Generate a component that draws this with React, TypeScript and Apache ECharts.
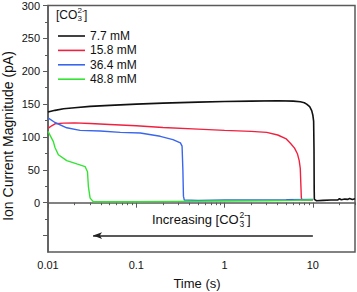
import React, { useEffect, useRef } from "react";
import * as echarts from "echarts";

const seriesNames = ["7.7 mM", "15.8 mM", "36.4 mM", "48.8 mM"];
const seriesColors = ["#111111", "#f2203f", "#3a66ee", "#33e433"];

const black: [number, number][] = [
  [0.01, 138], [0.012, 140.5], [0.015, 143], [0.02, 144.5], [0.03, 146.5], [0.05, 148],
  [0.1, 150], [0.2, 151.5], [0.5, 153], [1, 154], [2, 154.5], [4, 155], [6, 154.5],
  [7.2, 153.5], [8, 152], [8.5, 150], [9.2, 146], [9.7, 140], [10, 133], [10.2, 124],
  [10.3, 80], [10.35, 20], [10.4, 5], [11, 3], [13, 3.5], [16, 4], [19, 4], [20, 6],
  [21, 4.5], [23, 5.5], [25, 5], [26, 6.5], [28, 5], [30, 6],
];
const red: [number, number][] = [
  [0.01, 113], [0.011, 117], [0.012, 120], [0.015, 121], [0.02, 121.5], [0.03, 120.5],
  [0.05, 119], [0.1, 117], [0.2, 114.5], [0.5, 112], [1, 110], [2, 108.5], [3, 107],
  [4, 103], [5, 97], [5.6, 90], [6.2, 83], [6.7, 74], [7.0, 64], [7.2, 52], [7.3, 30],
  [7.4, 8], [7.5, 4], [10, 4],
];
const blue: [number, number][] = [
  [0.01, 129], [0.012, 122], [0.0163, 114], [0.0231, 110], [0.039, 109], [0.066, 107],
  [0.111, 106], [0.187, 101], [0.26, 96], [0.316, 91], [0.33, 86], [0.337, 50],
  [0.342, 10], [0.35, 4], [0.5, 3.5], [1, 4], [2, 4], [5, 4.5], [10, 5],
];
const green: [number, number][] = [
  [0.01, 108.5], [0.0115, 93], [0.012, 84], [0.0131, 73], [0.0163, 64], [0.0212, 59],
  [0.0263, 55], [0.028, 47], [0.0287, 24], [0.03, 7], [0.0326, 1.5], [0.05, 1.5],
  [0.1, 1.5], [0.3, 2], [1, 2.5], [3, 3], [6, 3.5], [9, 4], [10, 4],
];
const allSeries = [black, red, blue, green];

const xMajorTicks = [0.01, 0.1, 1, 10];
const xMinorTicks = [
  0.02, 0.03, 0.04, 0.05, 0.06, 0.07, 0.08, 0.09,
  0.2, 0.3, 0.4, 0.5, 0.6, 0.7, 0.8, 0.9,
  2, 3, 4, 5, 6, 7, 8, 9, 20, 30,
];
const yMajorTicks = [-50, 0, 50, 100, 150, 200, 250, 300];
const yMinorTicks = [-25, 25, 75, 125, 175, 225, 275];
const arrowFrom = [10, -50];
const arrowTo = [0.0324, -50];

const FONT = "Liberation Sans, Arial, sans-serif";

export default function App() {
  const ref = useRef<HTMLDivElement>(null);
  useEffect(() => {
    if (!ref.current) return;
    const chart = echarts.init(ref.current, null, { renderer: "svg" });
    const axisColor = "#5a5a5a";
    const xBase = {
      type: "log" as const,
      logBase: 10,
      min: 0.01,
      max: 30,
      gridIndex: 0,
      splitLine: { show: false },
    };
    const yBase = {
      type: "value" as const,
      min: -75,
      max: 300,
      interval: 25,
      splitLine: { show: false },
    };
    chart.setOption({
      animation: false,
      textStyle: { fontFamily: FONT },
      grid: {
        left: 48, right: 2, top: 5, bottom: 40,
        show: true, borderColor: axisColor, borderWidth: 1.5,
      },
      xAxis: [
        {
          ...xBase,
          axisLine: { show: true, lineStyle: { color: axisColor, width: 1.5 } },
          axisTick: { show: true, length: 5, customValues: xMajorTicks, lineStyle: { color: axisColor, width: 1 } },
          axisLabel: {
            customValues: xMajorTicks, margin: 7, color: "#111", fontSize: 11, fontFamily: FONT,
            formatter: (v: number) => String(v),
          },
        },
        {
          ...xBase,
          position: "bottom",
          axisLine: { show: false },
          axisTick: { show: true, length: 2.5, customValues: xMinorTicks, lineStyle: { color: axisColor, width: 1 } },
          axisLabel: { show: false },
        },
      ],
      yAxis: [
        {
          ...yBase,
          axisLine: { show: true, lineStyle: { color: axisColor, width: 1.5 } },
          axisTick: { show: true, length: 5, customValues: yMajorTicks, lineStyle: { color: axisColor, width: 1 } },
          axisLabel: {
            margin: 8, color: "#111", fontSize: 11, fontFamily: FONT,
            formatter: (v: number) => (v >= 0 && v % 50 === 0 ? String(v) : ""),
          },
        },
        {
          ...yBase,
          position: "left",
          axisLine: { show: false },
          axisTick: { show: true, length: 3, customValues: yMinorTicks, lineStyle: { color: axisColor, width: 1 } },
          axisLabel: { show: false },
        },
      ],
      legend: {
        show: true,
        orient: "vertical",
        left: 53,
        top: 24,
        itemWidth: 27,
        itemHeight: 1.6,
        itemGap: 0.4,
        icon: "rect",
        data: seriesNames,
        textStyle: { fontSize: 12, lineHeight: 14, color: "#111", fontFamily: FONT },
      },
      series: allSeries.map((d, i) => ({
        name: seriesNames[i],
        type: "line",
        data: d,
        xAxisIndex: 0,
        yAxisIndex: 0,
        showSymbol: false,
        smooth: false,
        lineStyle: { color: seriesColors[i], width: i === 0 ? 1.6 : 1.4 },
        itemStyle: { color: seriesColors[i] },
        z: 2 + i,
        markLine: i === 0 ? {
          silent: true,
          symbol: ["none", "arrow"],
          symbolSize: [5, 9],
          lineStyle: { color: "#222", width: 1.5, type: "solid" },
          label: { show: false },
          data: [[{ coord: arrowFrom }, { coord: arrowTo }]],
        } : undefined,
      })),
      graphic: [
        { type: "text", left: 56, top: 9, style: { text: "[CO", fontSize: 12, fill: "#111", fontFamily: FONT } },
        { type: "text", left: 77.5, top: 6, style: { text: "2-", fontSize: 8, fill: "#111", fontFamily: FONT } },
        { type: "text", left: 77.5, top: 14, style: { text: "3", fontSize: 8, fill: "#111", fontFamily: FONT } },
        { type: "text", left: 84, top: 9, style: { text: "]", fontSize: 12, fill: "#111", fontFamily: FONT } },

        { type: "text", left: 152, top: 213, style: { text: "Increasing [CO", fontSize: 13, fill: "#111", fontFamily: FONT } },
        { type: "text", left: 239.5, top: 210, style: { text: "2-", fontSize: 8.5, fill: "#111", fontFamily: FONT } },
        { type: "text", left: 239.5, top: 219, style: { text: "3", fontSize: 8.5, fill: "#111", fontFamily: FONT } },
        { type: "text", left: 247, top: 213, style: { text: "]", fontSize: 13, fill: "#111", fontFamily: FONT } },

        {
          type: "text", x: 8, y: 136, rotation: Math.PI / 2,
          style: { text: "Ion Current Magnitude (pA)", fontSize: 14, fill: "#111", fontFamily: FONT, align: "center", verticalAlign: "middle" },
        },
        {
          type: "text", x: 197, y: 283,
          style: { text: "Time (s)", fontSize: 13, fill: "#111", fontFamily: FONT, align: "center", verticalAlign: "middle" },
        },
      ],
    });
    return () => chart.dispose();
  }, []);
  return <div ref={ref} style={{ width: 357, height: 292, position: "absolute", left: 0, top: 0 }} />;
}
